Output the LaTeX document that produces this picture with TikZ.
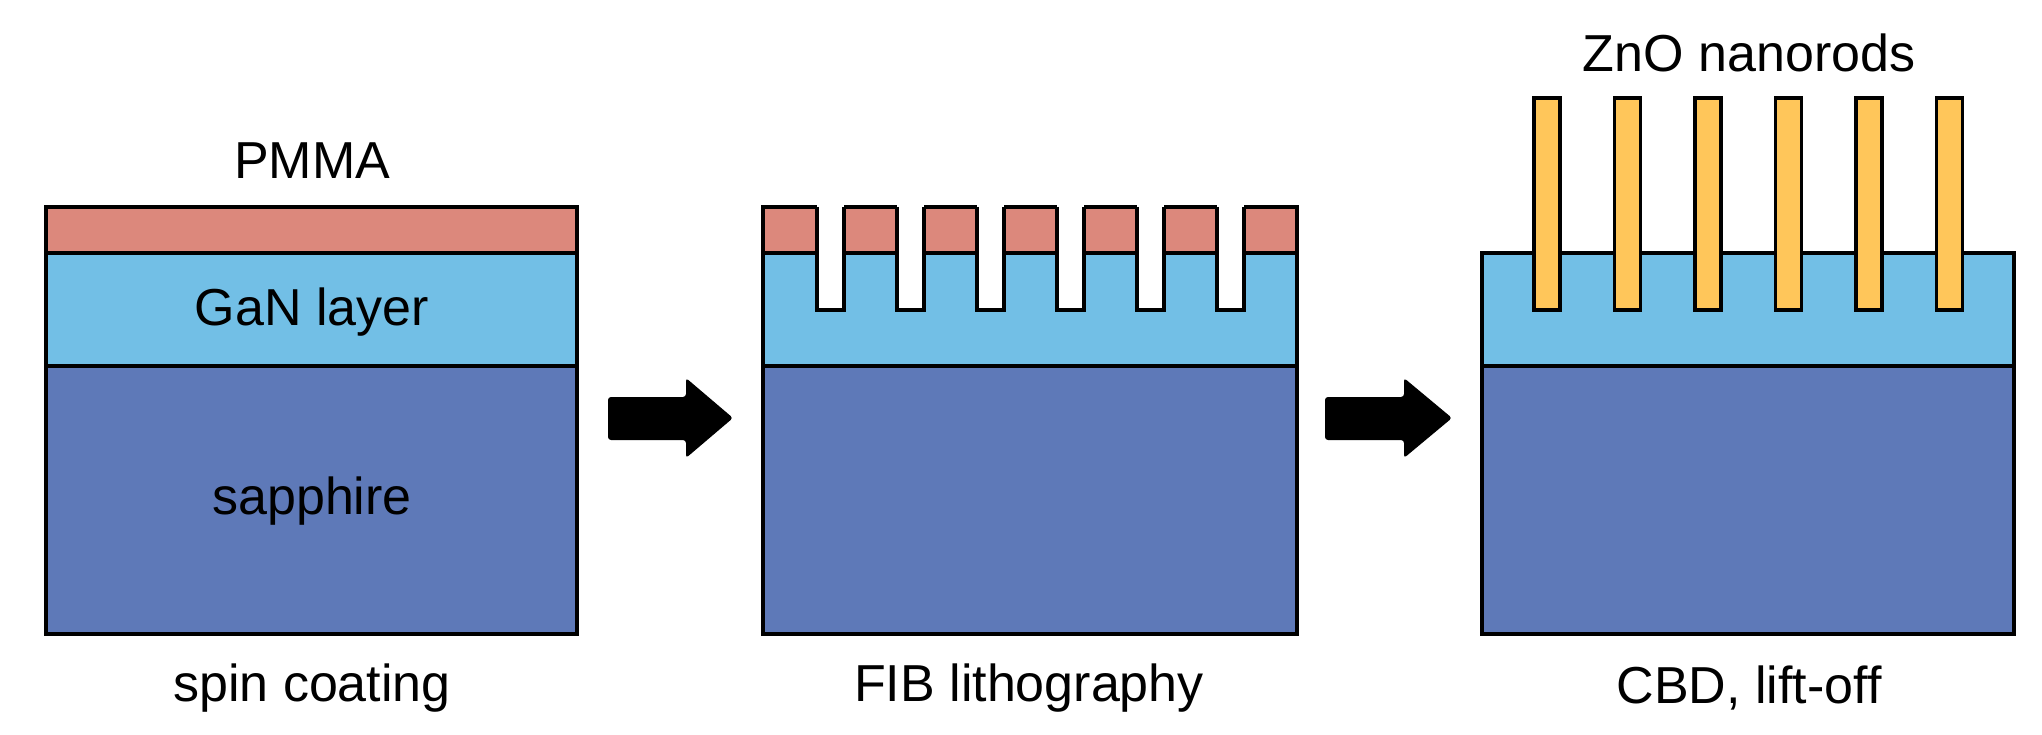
\documentclass[tikz,border=0pt]{standalone}
\usepackage{fontspec}
\setmainfont{Liberation Sans}
\definecolor{pmma}{HTML}{DC887C}
\definecolor{gan}{HTML}{72BFE6}
\definecolor{sapph}{HTML}{5E79B8}
\definecolor{rod}{HTML}{FFC65A}
\begin{document}
\begin{tikzpicture}[x=1pt,y=-1pt,line width=3.5pt,
  lbl/.style={font=\fontsize{52}{60}\selectfont,inner sep=0pt,anchor=center},
  arr/.style={fill=black,rounded corners=3pt}]
\useasboundingbox (0,0) rectangle (2042,735);
% panel 1
\draw[fill=sapph] (46,366) rectangle (577,634);
\draw[fill=gan] (46,253) rectangle (577,366);
\draw[fill=pmma] (46,207) rectangle (577,253);
\node[lbl] (p) at (312,161) {PMMA};
\node[lbl] (g) at (312,312) {GaN layer};
\node[lbl] (s) at (312,501) {sapphire};
\node[lbl] (c1) at (312,688) {spin coating};
% arrow 1
\fill[arr] (608,397) -- (686,397) -- (686,378) -- (733,418) -- (686,458) -- (686,440) -- (608,440) -- cycle;
% panel 2
\draw[fill=sapph] (763,366) rectangle (1297,634);
\draw[fill=gan] (763,253) rectangle (1297,366);
\draw[fill=pmma] (763,207) rectangle (1297,253);
\foreach \i in {0,...,5}{
  \pgfmathsetmacro{\xa}{817+80*\i}
  \pgfmathsetmacro{\xb}{\xa+27}
  \fill[white] (\xa,203) rectangle (\xb,310);
  \draw[line join=miter] (\xa,207) -- (\xa,310) -- (\xb,310) -- (\xb,207);
}
\node[lbl] (c2) at (1029,688) {FIB lithography};
% arrow 2
\fill[arr] (1325,397) -- (1404,397) -- (1404,378) -- (1452,418) -- (1404,458) -- (1404,440) -- (1325,440) -- cycle;
% panel 3
\draw[fill=sapph] (1482,366) rectangle (2014,634);
\draw[fill=gan] (1482,253) rectangle (2014,366);
\foreach \i in {0,...,5}{
  \pgfmathsetmacro{\xa}{1534+80.5*\i}
  \draw[fill=rod] (\xa,98) rectangle ++(26,212);
}
\node[lbl] (z) at (1749,53) {ZnO nanorods};
\node[lbl] (c3) at (1749,688) {CBD, lift-off};
\end{tikzpicture}
\end{document}
